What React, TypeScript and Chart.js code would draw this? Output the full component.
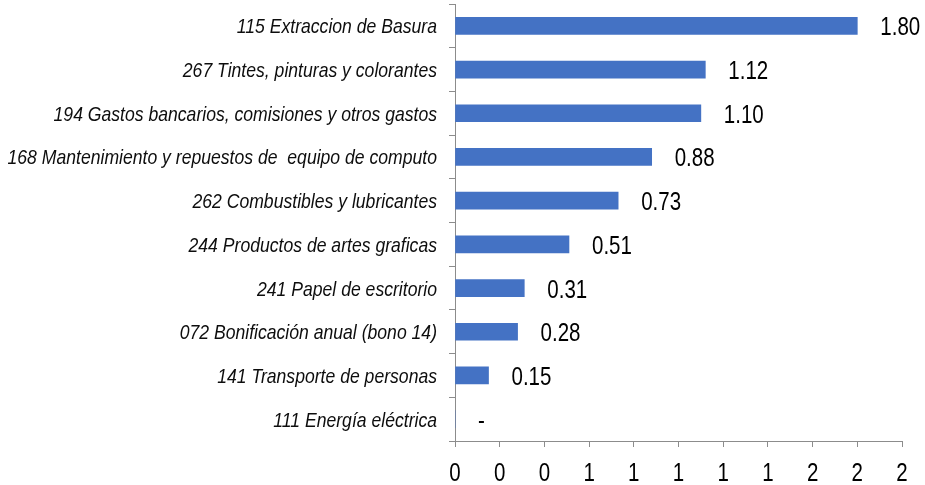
import React, { useEffect, useRef } from "react";
import { Chart, registerables } from "chart.js";

Chart.register(...registerables);

const categories = [
  "115 Extraccion de Basura",
  "267 Tintes, pinturas y colorantes",
  "194 Gastos bancarios, comisiones y otros gastos",
  "168 Mantenimiento y repuestos de  equipo de computo",
  "262 Combustibles y lubricantes",
  "244 Productos de artes graficas",
  "241 Papel de escritorio",
  "072 Bonificación anual (bono 14)",
  "141 Transporte de personas",
  "111 Energía eléctrica",
];
const values = [1.8, 1.12, 1.1, 0.88, 0.73, 0.51, 0.31, 0.28, 0.15, 0];
const xMin = 0;
const xMax = 2;
const xStep = 0.2;

const FONT = "'Liberation Sans', Arial, sans-serif";

function drawText(ctx: any, txt: string, x: number, y: number, align: string, squeeze: number) {
  ctx.save();
  ctx.translate(x, y);
  ctx.scale(squeeze, 1);
  ctx.textAlign = align;
  ctx.textBaseline = "alphabetic";
  ctx.fillText(txt, 0, 0);
  ctx.restore();
}

const textPlugin = {
  id: "textPlugin",
  afterDraw(chart: any) {
    const ctx = chart.ctx;
    const meta = chart.getDatasetMeta(0);
    const xs = chart.scales.x;
    const ys = chart.scales.y;
    ctx.save();
    ctx.fillStyle = "#000000";
    // value labels
    ctx.font = `25px ${FONT}`;
    meta.data.forEach((bar: any, i: number) => {
      const v = values[i];
      const txt = v === 0 ? "-" : v.toFixed(2);
      drawText(ctx, txt, xs.getPixelForValue(v) + 23, bar.y + 9.5, "left", 0.82);
    });
    // category labels
    ctx.font = `italic 21px ${FONT}`;
    ctx.fillStyle = "#0d0d0d";
    categories.forEach((c, i) => {
      drawText(ctx, c, ys.left + ys.width - 18, ys.getPixelForTick(i) + 7.5, "right", 0.838);
    });
    // x tick labels
    ctx.font = `25px ${FONT}`;
    ctx.fillStyle = "#000000";
    xs.ticks.forEach((t: any, i: number) => {
      const txt = Math.round(Number(t.value)).toFixed(0);
      drawText(ctx, txt, xs.getPixelForTick(i), 480.5, "center", 0.82);
    });
    ctx.restore();
  },
};

export default function App() {
  const ref = useRef<HTMLCanvasElement>(null);
  useEffect(() => {
    document.body.style.margin = "0";
    const chart = new Chart(ref.current!, {
      type: "bar",
      data: {
        labels: categories,
        datasets: [
          {
            data: values,
            backgroundColor: "#4472C4",
            borderWidth: 0,
            barThickness: 17,
          },
        ],
      },
      options: {
        indexAxis: "y",
        animation: false,
        responsive: false,
        maintainAspectRatio: false,
        layout: { padding: { top: 4, right: 23, left: 0, bottom: 0 } },
        plugins: { legend: { display: false }, tooltip: { enabled: false } },
        scales: {
          x: {
            type: "linear",
            min: xMin,
            max: xMax,
            afterFit(scale: any) {
              scale.height = 44;
            },
            ticks: {
              display: false,
              stepSize: xStep,
              autoSkip: false,
              maxRotation: 0,
            },
            grid: {
              drawOnChartArea: false,
              drawTicks: true,
              tickLength: 6,
              color: "#8c8c8c",
            },
            border: { color: "#8c8c8c", width: 1 },
          },
          y: {
            afterFit(scale: any) {
              scale.width = 455;
            },
            ticks: {
              display: false,
              autoSkip: false,
            },
            grid: {
              offset: true,
              drawOnChartArea: false,
              drawTicks: true,
              tickLength: 6,
              color: "#8c8c8c",
            },
            border: { color: "#8c8c8c", width: 1 },
          },
        },
      },
      plugins: [textPlugin],
    });
    return () => chart.destroy();
  }, []);
  return (
    <div style={{ position: "absolute", left: 0, top: 0, width: 925, height: 485, background: "#ffffff" }}>
      <canvas ref={ref} width={925} height={485} style={{ width: 925, height: 485 }} />
    </div>
  );
}
